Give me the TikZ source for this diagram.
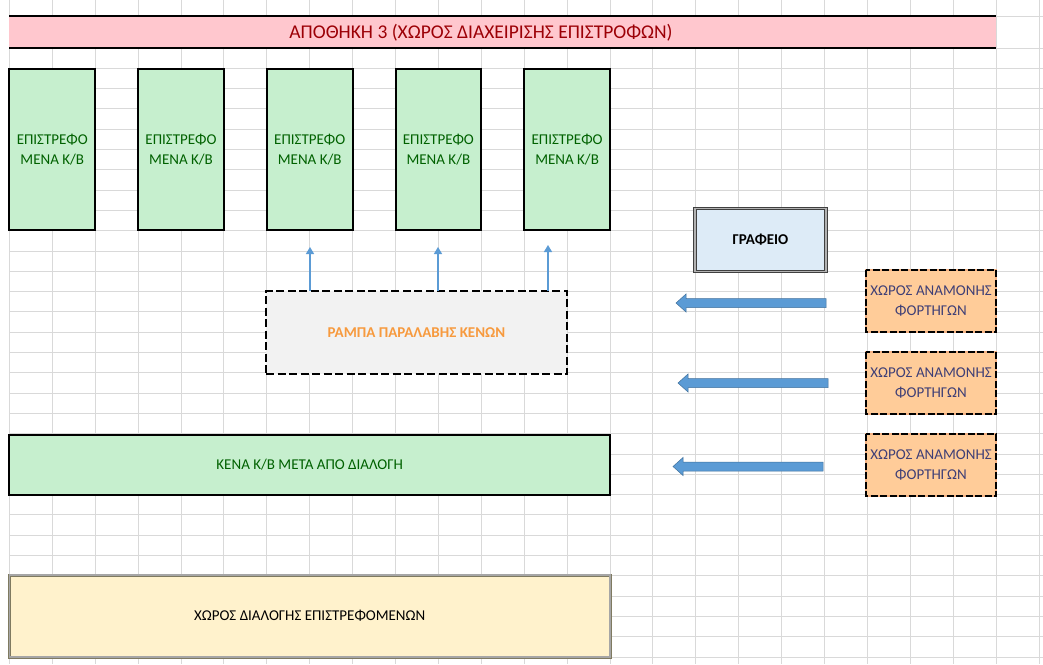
\documentclass[tikz,border=0pt]{standalone}
\usepackage{fontspec}
\setmainfont{Carlito}
\usetikzlibrary{positioning,arrows.meta}
\definecolor{gridc}{HTML}{D9D9D9}
\definecolor{badfill}{HTML}{FFC7CE}
\definecolor{badtext}{HTML}{9C0006}
\definecolor{goodfill}{HTML}{C6EFCE}
\definecolor{goodtext}{HTML}{006100}
\definecolor{rampfill}{HTML}{F2F2F2}
\definecolor{ramptext}{HTML}{F79A3E}
\definecolor{officefill}{HTML}{DDEBF7}
\definecolor{waitfill}{HTML}{FFCC99}
\definecolor{waitedge}{HTML}{F4B183}
\definecolor{waittext}{HTML}{3F3F76}
\definecolor{sortfill}{HTML}{FFF2CC}
\definecolor{sortedge}{HTML}{7F7A60}
\definecolor{arrowblue}{HTML}{5B9BD5}
\definecolor{arrowedge}{HTML}{41719C}
\tikzset{
  area/.style={inner sep=0pt, outer sep=0pt, align=center, font=\fontsize{15}{20}\selectfont},
  greenbox/.style={area, fill=goodfill, draw=black, line width=2pt, text=goodtext},
  rampbox/.style={area, fill=rampfill, draw=black, line width=2pt,
    dash pattern=on 8pt off 3.5pt, text=ramptext, font=\fontsize{15}{20}\selectfont\bfseries},
  officebox/.style={area, fill=officefill, draw=black!75, line width=0.9pt,
    double=black!30, double distance=1.3pt, font=\fontsize{15}{20}\selectfont\bfseries},
  waitbox/.style={area, fill=waitfill, draw=waitedge, line width=2pt, text=waittext},
  sortbox/.style={area, fill=sortfill, draw=sortedge, line width=0.9pt,
    double=black!35, double distance=1.2pt},
  feed/.style={draw=arrowblue, line width=1.3pt, -{Triangle[length=7pt,width=8pt]}},
  blockarrow/.pic={
    \filldraw[fill=arrowblue, draw=arrowedge, line width=0.5pt]
      (0,-4.5) -- (-140,-4.5) -- (-140,-9) -- (-150,0) -- (-140,9)
      -- (-140,4.5) -- (0,4.5) -- cycle;
  },
}
\begin{document}
\begin{tikzpicture}[x=1pt, y=-1pt]
\useasboundingbox (0,0) rectangle (1043,664);
\fill[white] (0,0) rectangle (1043,664);

% worksheet grid
\foreach \k in {0,...,24}
  \draw[gridc, line width=1pt] ({9.4+42.9*\k},0) -- ({9.4+42.9*\k},664);
\draw[gridc, line width=1pt] (9.4,16) -- (1043,16);
\foreach \j in {0,...,30}
  \draw[gridc, line width=1pt] (9.4,{48+20.3*\j}) -- (1043,{48+20.3*\j});

% title band
\fill[badfill] (9.4,16) rectangle (996,48);
\draw[black, line width=2pt] (9.4,16) -- (996,16) (9.4,48) -- (996,48);
\node[area, font=\fontsize{19.5}{22}\selectfont, text=badtext] (title) at (481,32.5)
  {ΑΠΟΘΗΚΗ 3 (ΧΩΡΟΣ ΔΙΑΧΕΙΡΙΣΗΣ ΕΠΙΣΤΡΟΦΩΝ)};

% returned containers
\foreach \cx [count=\i] in {52.3,181,309.7,438.4,567.1}
  \node[greenbox, minimum width=85.8pt, minimum height=161pt] (ret\i) at (\cx,149.5)
    {ΕΠΙΣΤΡΕΦΟ\\ΜΕΝΑ Κ/Β};

% empties receiving ramp
\node[rampbox, minimum width=301pt, minimum height=83pt] (ramp) at (416.5,332.5)
  {ΡΑΜΠΑ ΠΑΡΑΛΑΒΗΣ ΚΕΝΩΝ};
\coordinate (up1) at (310,247);
\coordinate (up2) at (438,247);
\coordinate (up3) at (548,245);
\draw[feed] (ramp.north -| up1) -- (up1);
\draw[feed] (ramp.north -| up2) -- (up2);
\draw[feed] (ramp.north -| up3) -- (up3);

% office
\node[officebox, minimum width=131pt, minimum height=63pt] (office) at (760.5,240) {ΓΡΑΦΕΙΟ};

% truck waiting areas
\foreach \cy [count=\i] in {301,383,465} {
  \node[waitbox, minimum width=130pt, minimum height=62pt] (wait\i) at (931,\cy)
    {ΧΩΡΟΣ ΑΝΑΜΟΝΗΣ\\ΦΟΡΤΗΓΩΝ};
  \draw[black, line width=2pt, dash pattern=on 7pt off 2.5pt]
    (wait\i.north west) rectangle (wait\i.south east);
}

% truck flow arrows
\pic at (826,303) {blockarrow};
\pic at (828,383) {blockarrow};
\pic at (823,466.5) {blockarrow};

% sorted empties and sorting area
\node[greenbox, minimum width=600.6pt, minimum height=60pt] (empties) at (309.7,465)
  {ΚΕΝΑ Κ/Β ΜΕΤΑ ΑΠΌ ΔΙΑΛΟΓΗ};
\node[sortbox, minimum width=600.6pt, minimum height=82pt] (sorting) at (309.7,616)
  {ΧΩΡΟΣ ΔΙΑΛΟΓΗΣ ΕΠΙΣΤΡΕΦΟΜΕΝΩΝ};
\end{tikzpicture}
\end{document}
